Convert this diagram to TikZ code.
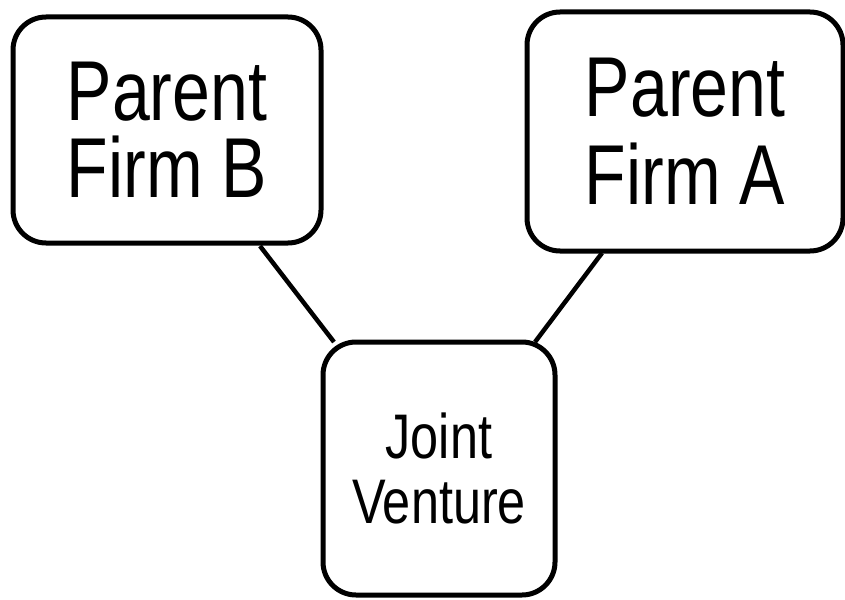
\documentclass[tikz,border=0pt]{standalone}
\usepackage{fontspec}
\setmainfont{Liberation Sans}[FakeStretch=0.8]

\begin{document}
\begin{tikzpicture}[x=1pt, y=-1pt,
  firm/.style={draw, line width=5pt, rounded corners=33pt, align=center, outer sep=0pt, inner sep=0pt},
  link/.style={line width=4.5pt}]
  \useasboundingbox (0,0) rectangle (845,599);
  \node[firm, minimum width=308pt, minimum height=226pt, font=\fontsize{85}{77}\selectfont](firmB) at (167,130){Parent\\Firm B};
  \node[firm, minimum width=316pt, minimum height=239pt, font=\fontsize{85}{88}\selectfont](firmA) at (685,131.5){Parent\\Firm A};
  \node[firm, minimum width=232pt, minimum height=253pt, font=\fontsize{63}{65}\selectfont](jv) at (439,468.5){Joint\\Venture};
  \draw [link] ([xshift=93pt, yshift=-3pt]firmB.south) -- ([xshift=11pt]jv.north west);
  \draw [link] ([xshift=-83pt, yshift=-2pt]firmA.south) -- ([xshift=-20pt]jv.north east);
\end{tikzpicture}
\end{document}
